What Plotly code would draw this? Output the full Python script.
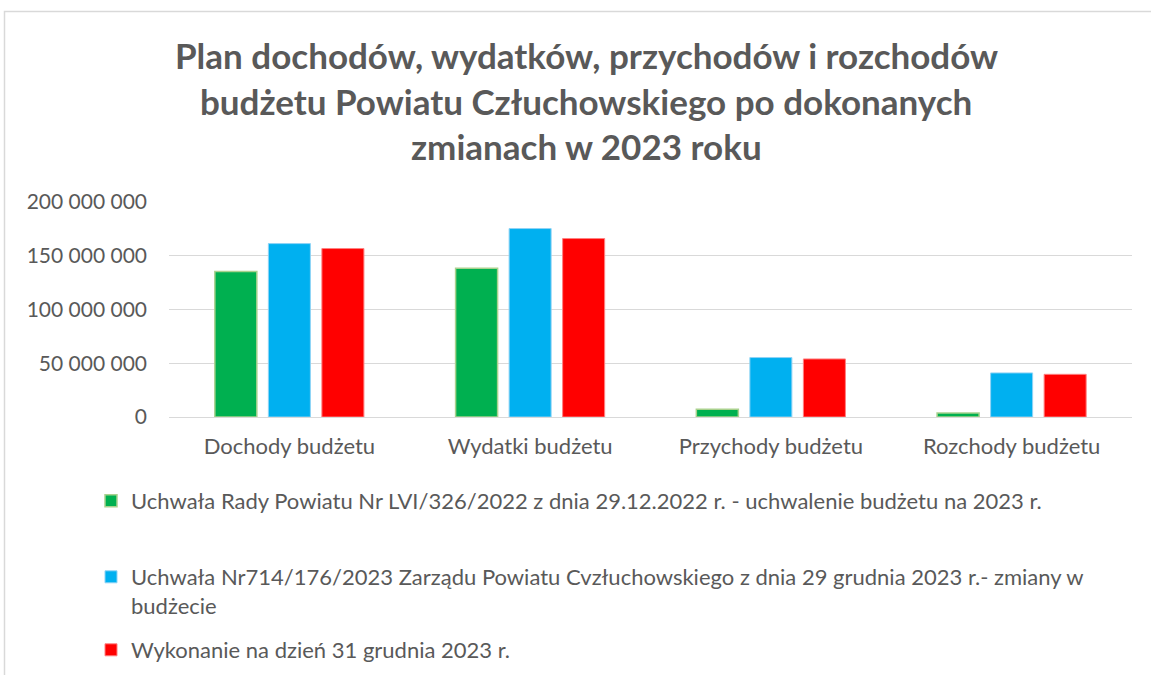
import plotly.graph_objects as go

categories = ["Dochody budżetu", "Wydatki budżetu", "Przychody budżetu", "Rozchody budżetu"]
series_names = [
    "Uchwała Rady Powiatu Nr LVI/326/2022 z dnia 29.12.2022 r. - uchwalenie budżetu na 2023 r.",
    "Uchwała Nr714/176/2023 Zarządu Powiatu Cvzłuchowskiego z dnia 29 grudnia 2023 r.- zmiany w<br>budżecie",
    "Wykonanie na dzień 31 grudnia 2023 r.",
]
uchwala_rady = [135300000, 138300000, 7200000, 3700000]
uchwala_zarzadu = [161300000, 175300000, 55300000, 41000000]
wykonanie = [156700000, 166000000, 54000000, 39700000]
title_lines = [
    "Plan dochodów, wydatków, przychodów i rozchodów",
    "budżetu Powiatu Człuchowskiego po dokonanych",
    "zmianach w 2023 roku",
]
y_ticks = [0, 50000000, 100000000, 150000000, 200000000]

fills = ["#00B050", "#00B0F0", "#FF0000"]
edges = ["#A9D18E", "#8FD3F5", "#FF8080"]
FONT = "Lato, 'Open Sans', sans-serif"
GREY = "#595959"

W, H = 1151, 675
L, R, T, B = 169, 19, 202, 258
pw, ph = W - L - R, H - T - B


def px_x(px):
    return (px - L) / pw


def px_y(py):
    return (H - B - py) / ph


legend_names = ["legend", "legend2", "legend3"]
legend_tops = [480, 556, 629]

fig = go.Figure()
for i, (name, vals) in enumerate(zip(series_names, [uchwala_rady, uchwala_zarzadu, wykonanie])):
    fig.add_trace(go.Bar(
        x=categories, y=vals, name=name,
        marker=dict(color=fills[i], line=dict(color=edges[i], width=1.5 if i == 0 else 1)),
        legend=legend_names[i],
    ))

for line, py in zip(title_lines, [55, 101, 146]):
    fig.add_annotation(
        text=f"<b>{line}</b>", xref="paper", yref="paper",
        x=px_x(586), y=px_y(py), xanchor="center", yanchor="middle",
        showarrow=False, font=dict(family=FONT, size=35, color=GREY),
    )

fig.add_shape(
    type="rect", xref="paper", yref="paper",
    x0=px_x(4.5), x1=px_x(1160), y0=px_y(700), y1=px_y(11.5),
    line=dict(color="#D9D9D9", width=1.5), fillcolor="rgba(0,0,0,0)", layer="below",
)

legend_common = dict(
    orientation="v", xref="container", yref="container",
    x=91 / W, xanchor="left", yanchor="top", valign="top",
    font=dict(family=FONT, size=22, color=GREY),
    bgcolor="rgba(0,0,0,0)",
)

fig.update_layout(
    width=W, height=H,
    margin=dict(l=L, r=R, t=T, b=B, autoexpand=False),
    paper_bgcolor="white", plot_bgcolor="white",
    barmode="group", bargap=0.333, bargroupgap=0.215,
    separators=", ",
    font=dict(family=FONT, size=22, color=GREY),
    showlegend=True,
    legend=dict(y=1 - legend_tops[0] / H, **legend_common),
    legend2=dict(y=1 - legend_tops[1] / H, **legend_common),
    legend3=dict(y=1 - legend_tops[2] / H, **legend_common),
    xaxis=dict(
        showgrid=False, showline=False, ticks="", ticklabelstandoff=14,
        tickfont=dict(family=FONT, size=22, color=GREY),
    ),
    yaxis=dict(
        range=[0, 200000000], tickvals=y_ticks, tickformat=",.0f",
        showgrid=True, gridcolor="#D9D9D9", gridwidth=1.3,
        zeroline=True, zerolinecolor="#D9D9D9", zerolinewidth=1.3,
        showline=False, ticks="", ticklabelstandoff=21,
        tickfont=dict(family=FONT, size=21, color=GREY),
    ),
)

fig.write_html(
    "out.html",
    config={"displayModeBar": False},
    post_script="document.body.style.margin='0px';",
)
